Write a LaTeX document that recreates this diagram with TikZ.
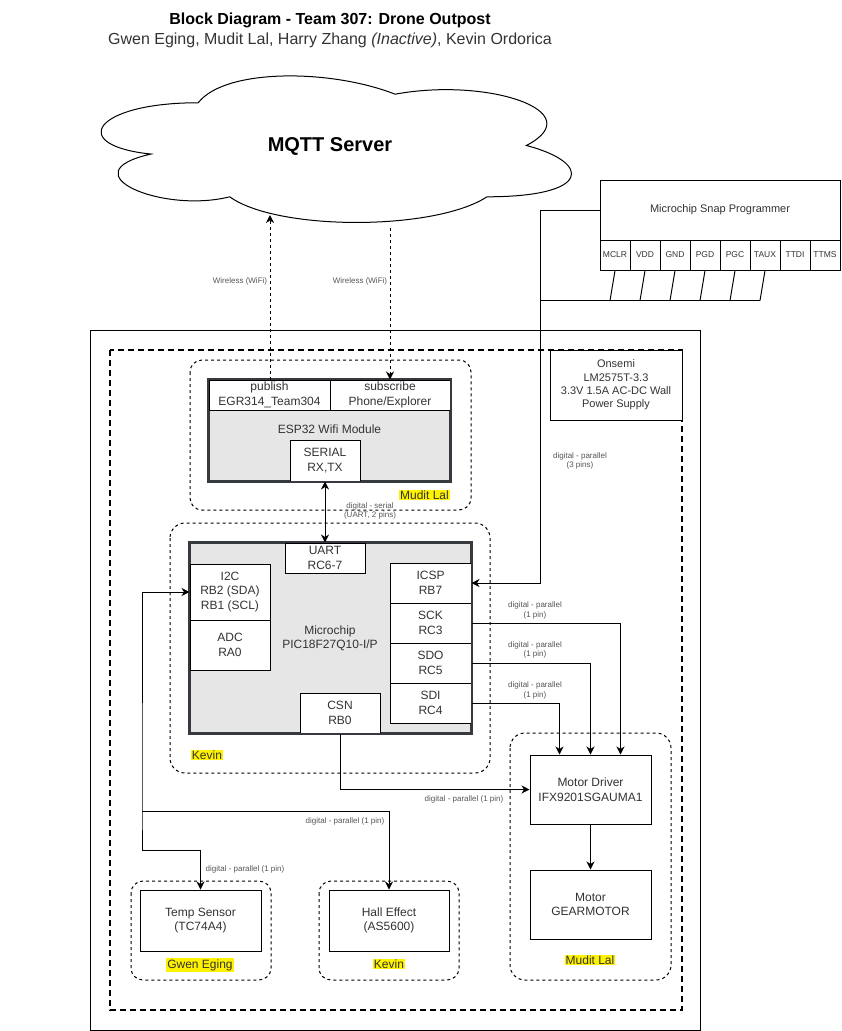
\documentclass[tikz,border=0pt]{standalone}
\usepackage{fontspec}
\setmainfont{Liberation Sans}
\usetikzlibrary{arrows.meta,calc}
\definecolor{txt}{HTML}{333333}
\definecolor{lblc}{HTML}{555555}
\definecolor{chip}{HTML}{E6E6E6}
\definecolor{chipedge}{HTML}{36393D}
\newcommand{\fsA}{\fontsize{12}{14.4}\selectfont}
\newcommand{\fsB}{\fontsize{11}{13.3}\selectfont}
\newcommand{\fsPin}{\fontsize{8.5}{10}\selectfont}
\newcommand{\fsLbl}{\fontsize{8}{9.6}\selectfont}
\newcommand{\fsTitle}{\fontsize{16}{19}\selectfont}
\newcommand{\fsCloud}{\fontsize{20}{24}\selectfont}
\begin{document}
\begin{tikzpicture}[x=1pt,y=-1pt,line width=1pt,
  every node/.style={text=txt},
  blk/.style={draw=black,fill=white,inner sep=0pt,align=center,font=\fsA,line width=1pt},
  pinbox/.style={draw=black,fill=white,inner sep=0pt,minimum width=30pt,minimum height=30pt,font=\fsPin},
  grp/.style={draw=black,dash pattern=on 3pt off 3pt,rounded corners=12pt,line width=1pt},
  edgelbl/.style={font=\fsLbl,text=lblc,align=center,inner sep=0pt},
  hl/.style={fill=yellow,inner sep=1pt,font=\fsA},
  arr/.style={-{Stealth[length=8pt,width=8pt,inset=2.5pt]}},
  biarr/.style={{Stealth[length=8pt,width=8pt,inset=2.5pt]}-{Stealth[length=8pt,width=8pt,inset=2.5pt]}},
  wire/.style={dash pattern=on 3pt off 3pt},
  chipbox/.style={fill=chip,draw=chipedge,line width=1.6pt,inner sep=0pt}]
\useasboundingbox (0,0) rectangle (841,1031);

% title
\node[font={\fsTitle\bfseries},text=black] (title) at (330,20) {Block Diagram - Team 307: Drone Outpost};
\node[font=\fsTitle] (subtitle) at (330,40) {Gwen Eging, Mudit Lal, Harry Zhang \textit{(Inactive)}, Kevin Ordorica};

% cloud
\draw[fill=white] (198.25,102.75)
  .. controls (93.25,102.75) and (67,145.5) .. (151,154.05)
  .. controls (67,172.86) and (161.5,213.9) .. (229.75,196.8)
  .. controls (277,231) and (434.5,231) .. (487,196.8)
  .. controls (592,196.8) and (592,162.6) .. (526.375,145.5)
  .. controls (592,111.3) and (487,77.1) .. (395.125,94.2)
  .. controls (329.5,68.55) and (224.5,68.55) .. (198.25,102.75) -- cycle;
\node[font={\fsCloud\bfseries},text=black] (mqtt) at (330,146) {MQTT Server};
\coordinate (cloudin) at (270,215);
\coordinate (cloudout) at (390,228);

% snap programmer
\node[blk,font=\fsB,minimum width=240pt,minimum height=60pt] (snap) at (720,210) {Microchip Snap Programmer};
\foreach \n [count=\i from 0] in {MCLR,VDD,GND,PGD,PGC,TAUX,TTDI,TTMS}{
  \node[pinbox] (pin\i) at (615+30*\i,255) {\n};
}
\foreach \i in {0,...,5}{
  \draw (pin\i.south) -- ++(-5,30);
}
\coordinate (bend) at (540,210);
\coordinate (busjoin) at (540,300);
\draw (busjoin) -- (760,300);

% outer boxes
\draw (90,330) rectangle (700,1030);
\draw[line width=2pt,dash pattern=on 6pt off 4pt] (110,350) rectangle (682,1010);

% onsemi
\node[blk,font=\fsB,minimum width=132pt,minimum height=70pt] (onsemi) at (616,385)
  {Onsemi\\LM2575T-3.3\\3.3V 1.5A AC-DC Wall\\Power Supply};

% ESP group
\draw[grp] (190,360) rectangle (471,510);
\node[chipbox,minimum width=241pt,minimum height=101pt] (esp) at (329.5,430.5) {};
\node[blk,minimum width=121pt,minimum height=30pt] (publish) at (269.5,395) {publish\\EGR314\_Team304};
\node[blk,minimum width=120pt,minimum height=30pt] (subscribe) at (390,395) {subscribe\\Phone/Explorer};
\node[font=\fsA] (esptxt) at (329.5,429) {ESP32 Wifi Module};
\node[blk,minimum width=70pt,minimum height=41pt] (serial) at (325,460.5) {SERIAL\\RX,TX};
\draw[draw=chipedge,line width=1.6pt] (esp.north west) rectangle (esp.south east);
\node[hl] (mudit1) at (424.5,495) {Mudit Lal};

% wireless
\draw[wire,arr] (publish.north -| cloudin) -- (cloudin);
\draw[wire,arr] (cloudout) -- (subscribe.north);
\node[edgelbl] (wl1) at (240,281) {Wireless (WiFi)};
\node[edgelbl] (wl2) at (360,281) {Wireless (WiFi)};

% PIC group
\draw[grp,rounded corners=15pt] (170,523) rectangle (490,773);
\node[chipbox,minimum width=281pt,minimum height=190pt] (pic) at (330.5,638) {};
\node[font=\fsA,align=center] (pictxt) at (330,638) {Microchip\\PIC18F27Q10-I/P};
\node[blk,minimum width=80pt,minimum height=30pt] (uart) at (325,558) {UART\\RC6-7};
\node[blk,minimum width=80pt,minimum height=56pt] (i2c) at (230,592) {I2C\\RB2 (SDA)\\RB1 (SCL)};
\node[blk,minimum width=80pt,minimum height=50pt] (adc) at (230,645) {ADC\\RA0};
\node[blk,minimum width=81pt,minimum height=40pt] (icsp) at (430.5,583) {ICSP\\RB7};
\node[blk,minimum width=81pt,minimum height=40pt] (sck) at (430.5,623) {SCK\\RC3};
\node[blk,minimum width=81pt,minimum height=40pt] (sdo) at (430.5,663) {SDO\\RC5};
\node[blk,minimum width=81pt,minimum height=40pt] (sdi) at (430.5,703) {SDI\\RC4};
\node[blk,minimum width=80pt,minimum height=40pt] (csn) at (340,713) {CSN\\RB0};
\draw[draw=chipedge,line width=1.6pt] (pic.north west) rectangle (pic.south east);
\node[hl] (kevin1) at (207,755) {Kevin};

% serial link
\draw[biarr] (serial.south) -- (uart.north);
\node[edgelbl] (serlbl) at (370,511) {digital - serial\\(UART, 2 pins)};

% ICSP link
\draw[arr] (snap.west) -- (bend) -- (bend |- icsp.east) -- (icsp.east);
\node[edgelbl] (icsplbl) at (580,461) {digital - parallel\\(3 pins)};

% Motor group
\draw[grp,rounded corners=15pt] (510,733) rectangle (671,980);
\node[blk,minimum width=121pt,minimum height=69pt] (mdrv) at (590.5,789.5) {Motor Driver\\IFX9201SGAUMA1};
\node[blk,minimum width=121pt,minimum height=69pt] (motor) at (590.5,904.5) {Motor\\GEARMOTOR};
\draw[arr] (mdrv.south) -- (motor.north);
\node[hl] (mudit2) at (590,960) {Mudit Lal};

% SPI links
\draw[arr] (sck.east) -| ([xshift=91pt]mdrv.north west);
\draw[arr] (sdo.east) -| ([xshift=61pt]mdrv.north west);
\draw[arr] (sdi.east) -| ([xshift=30pt]mdrv.north west);
\node[edgelbl] (l1) at (535,610.5) {digital - parallel\\(1 pin)};
\node[edgelbl] (l2) at (535,650) {digital - parallel\\(1 pin)};
\node[edgelbl] (l3) at (535,690.5) {digital - parallel\\(1 pin)};

% CSN link
\draw[arr] (csn.south) |- (mdrv.west);
\node[edgelbl] (csnlbl) at (464,799) {digital - parallel (1 pin)};

% sensors
\draw[grp] (131,881) rectangle (271,980);
\node[blk,minimum width=121pt,minimum height=61pt] (temp) at (200.5,920.5) {Temp Sensor\\(TC74A4)};
\node[hl] (gwen) at (200,965) {Gwen Eging};
\draw[grp] (319,881) rectangle (459,980);
\node[blk,minimum width=120pt,minimum height=61pt] (hall) at (389,920.5) {Hall Effect\\(AS5600)};
\node[hl] (kevin2) at (389,964) {Kevin};

% I2C bus
\coordinate (busA) at (142,811);
\coordinate (busB) at (142,850);
\draw[arr] (busB) -- (busA) |- (i2c.west);
\draw[arr] (busA) -| (hall.north);
\draw[arr] (busB) -| (temp.north);
\node[edgelbl] (hlbl) at (345,821) {digital - parallel (1 pin)};
\node[edgelbl] (tlbl) at (245,869) {digital - parallel (1 pin)};
\end{tikzpicture}
\end{document}
